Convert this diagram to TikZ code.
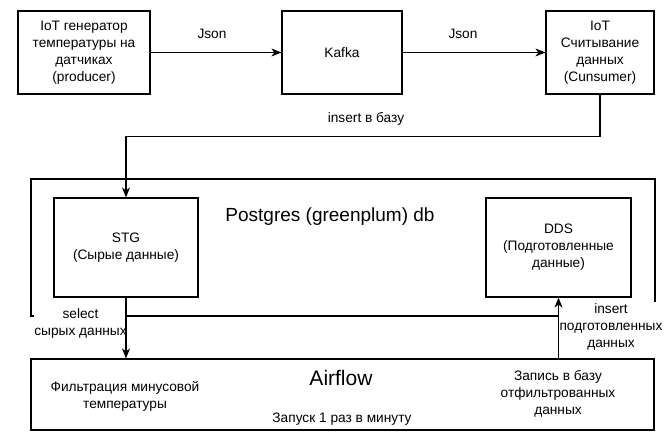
\documentclass[tikz,border=0pt]{standalone}
\usepackage{fontspec}
\setmainfont{Liberation Sans}
\usetikzlibrary{arrows.meta,positioning,calc}
\tikzset{
	box/.style={draw, align=center, inner sep=0pt},
	lbl/.style={align=center, inner sep=1pt},
	tip/.style={-{Stealth[length=10pt,width=8pt,inset=3pt]}}
}
\newcommand{\txt}{\fontsize{13.7}{17}\selectfont}
\begin{document}
\begin{tikzpicture}[x=1pt, y=-1pt, line width=1.2pt, font=\txt]
			\useasboundingbox (0,0) rectangle (669,444);
			
			\node[box, minimum width=132pt, minimum height=83pt] (gen) at (84,52.5) {IoT генератор\\температуры на\\датчиках\\(producer)};
			\node[box, minimum width=120pt, minimum height=83pt] (kafka) at (342,52.5) {Kafka};
			\node[box, minimum width=108pt, minimum height=83pt] (cons) at (600,52.5) {IoT\\Считывание\\данных\\(Cunsumer)};
			
			\node[box, minimum width=624pt, minimum height=137pt] (pg) at (343,247.5) {};
			\node[font=\fontsize{19}{22}\selectfont] (pgtitle) at (330,217) {Postgres (greenplum) db};
			\node[box, minimum width=144pt, minimum height=99pt] (stg) at (126,247.5) {STG\\(Сырые данные)};
			\node[box, minimum width=145pt, minimum height=99pt] (dds) at (558.5,247.5) {DDS\\(Подготовленные\\данные)};
			
			\node[box, minimum width=623pt, minimum height=71pt] (air) at (342.5,394.5) {};
			\node[font=\fontsize{21}{24}\selectfont] (airtitle) at (341,378) {Airflow};
			\node[lbl] (filt) at (125,396.5) {Фильтрация минусовой\\температуры};
			\node[lbl] (run) at (342,419) {Запуск 1 раз в минуту};
			\node[lbl] (write) at (558,393.5) {Запись в базу\\отфильтрованных\\данных};
			
			\coordinate (bend1) at ($(cons.south) + (0,42)$);
			\coordinate (bend2) at (bend1 -| stg.north);
			
			\draw[tip] (gen) -- (kafka);
			\draw[tip] (kafka) -- (cons);
			\draw[tip] (cons.south) -- (bend1) -- (bend2) -- (stg.north);
			
			\node[lbl, fill=white, inner xsep=0.5pt] (sel) at (80.5,323) {select\\сырых данных};
			\node[lbl, fill=white, inner xsep=2pt, inner ysep=2pt] (ins) at (611,327) {insert\\подготовленных\\данных};
			\draw (pg.north west) -- (pg.south west);
			\draw[tip] (stg.south) -- (stg.south |- air.north);
			\draw[tip] (dds.south |- air.north) -- (dds.south);
			
			\node[lbl] (json1) at (212,34) {Json};
			\node[lbl] (json2) at (463,34) {Json};
			\node[lbl] (insbase) at (366,119) {insert в базу};
		\end{tikzpicture}
\end{document}
